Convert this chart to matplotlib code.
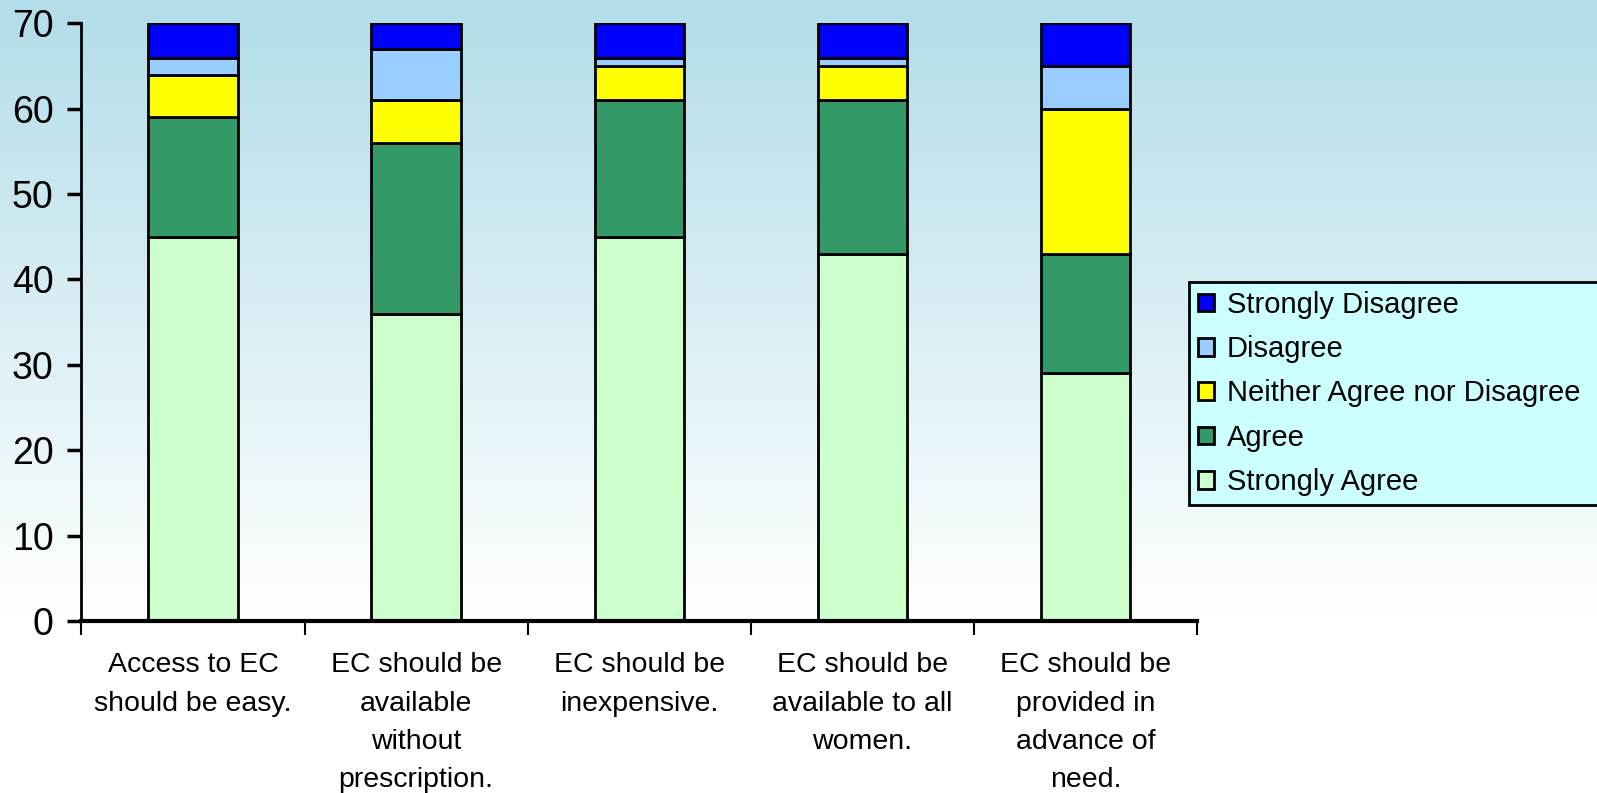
import numpy as np
import matplotlib
matplotlib.use("Agg")
import matplotlib.pyplot as plt
from matplotlib.colors import LinearSegmentedColormap

# data
categories = [
    "Access to EC\nshould be easy.",
    "EC should be\navailable\nwithout\nprescription.",
    "EC should be\ninexpensive.",
    "EC should be\navailable to all\nwomen.",
    "EC should be\nprovided in\nadvance of\nneed.",
]
series_names = ["Strongly Agree", "Agree", "Neither Agree nor Disagree",
                "Disagree", "Strongly Disagree"]
strongly_agree = [45, 36, 45, 43, 29]
agree = [14, 20, 16, 18, 14]
neither = [5, 5, 4, 4, 17]
disagree = [2, 6, 1, 1, 5]
strongly_disagree = [4, 3, 4, 4, 5]
colors = ["#CCFFCC", "#339966", "#FFFF00", "#99CCFF", "#0000FF"]

plt.rcParams["font.family"] = ["Liberation Sans", "DejaVu Sans"]

fig = plt.figure(figsize=(15.97, 7.93), dpi=100)

# background gradient: light blue at top fading to white
bg = fig.add_axes([0, 0, 1, 1], zorder=-10)
grad_cmap = LinearSegmentedColormap.from_list(
    "bg", [(0.0, "#FFFFFF"), (0.22, "#FFFFFF"), (1.0, "#B2DDE9")])
bg.imshow(np.linspace(0, 1, 256).reshape(-1, 1), aspect="auto",
          cmap=grad_cmap, origin="lower", extent=[0, 1, 0, 1])
bg.axis("off")

ax = fig.add_axes([0.051, 0.217, 0.6985, 0.7535])
ax.patch.set_alpha(0)

x = np.arange(len(categories))
bottom = np.zeros(len(categories))
handles = []
for name, vals, c in zip(series_names,
                         [strongly_agree, agree, neither, disagree, strongly_disagree],
                         colors):
    h = ax.bar(x, vals, width=0.4, bottom=bottom, color=c,
               edgecolor="black", linewidth=2, label=name)
    handles.append(h)
    bottom += np.array(vals)

ax.set_xlim(-0.5, len(categories) - 0.5)
ax.set_ylim(0, 70)
ax.set_yticks(np.arange(0, 71, 10))
ax.set_xticks(np.arange(-0.5, len(categories), 1))
ax.set_xticklabels([])
ax.tick_params(axis="x", length=10, width=1.5, direction="out")
ax.tick_params(axis="y", length=10, width=2.5, direction="out", labelsize=27, pad=10)

# category labels under each bar
for xi, lab in zip(x, categories):
    ax.annotate(lab, xy=(xi, 0), xycoords=("data", "axes fraction"),
                xytext=(0, -22.5), textcoords="offset points",
                ha="center", va="top", fontsize=20.5, linespacing=1.62)

for s in ["top", "right"]:
    ax.spines[s].set_visible(False)
ax.spines["left"].set_linewidth(2)
ax.spines["bottom"].set_linewidth(3)

# legend box runs off the right edge of the figure like the original
lx0 = (1189 - 81.5) / 1115.5 - 0.5 / 1115.5 * 0
lx0 = (1189 - 81.5) / 1115.5
ltop = 1 - (282 - 23.4) / 597.6
lh = (504 - 282) / 597.6
leg = ax.legend(handles[::-1], series_names[::-1], loc="upper left",
                bbox_to_anchor=(lx0, ltop - lh, 0.37, lh), mode="expand",
                fontsize=21, frameon=True, fancybox=False, handlelength=0.55,
                handleheight=0.55, handletextpad=0.45, labelspacing=0.56,
                borderpad=0.3, borderaxespad=0)
leg.get_frame().set_facecolor("#CCFFFF")
leg.get_frame().set_edgecolor("black")
leg.get_frame().set_linewidth(2)
leg.get_frame().set_alpha(1)

fig.savefig("out.png", dpi=100)
